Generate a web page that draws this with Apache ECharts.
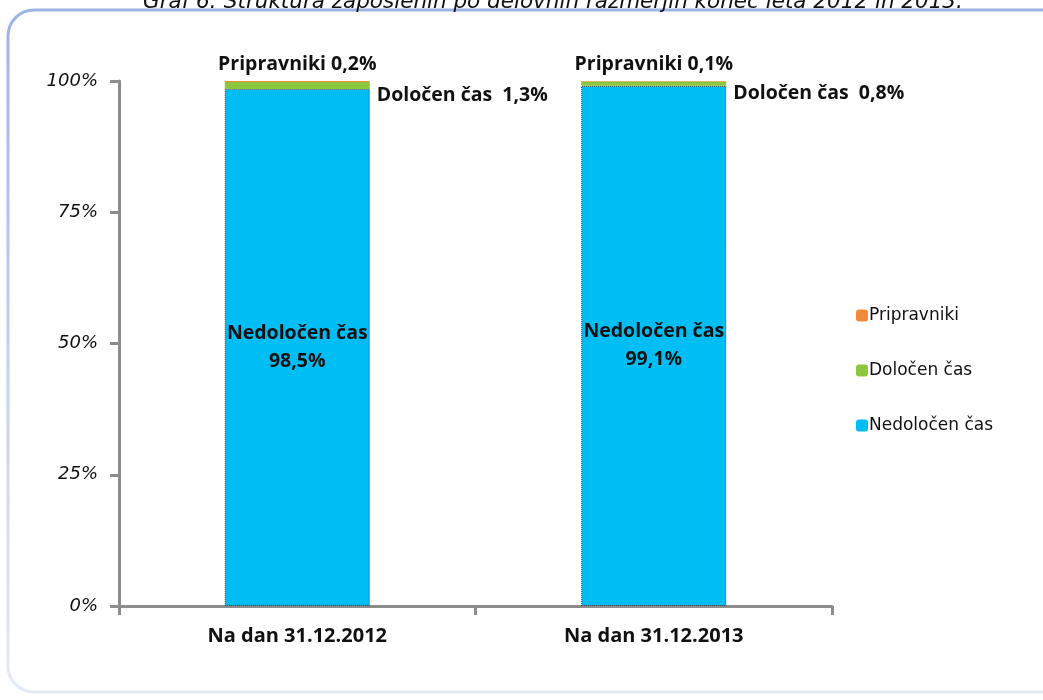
<!DOCTYPE html>
<html>
<head>
<meta charset="utf-8">
<script src="https://cdn.jsdelivr.net/npm/echarts@6/dist/echarts.min.js"></script>
<style>
  html, body { margin: 0; padding: 0; background: #fff; }
  #chart { width: 1043px; height: 700px; }
</style>
</head>
<body>
<div id="chart"></div>
<script>
/* Graf 6 — struktura zaposlenih po delovnih razmerjih */
const categories = ['Na dan 31.12.2012', 'Na dan 31.12.2013'];
const nedolocen = [98.5, 99.1];
const dolocen = [1.3, 0.8];
const pripravniki = [0.2, 0.1];
const yTicks = [0, 25, 50, 75, 100];

const chart = echarts.init(document.getElementById('chart'));

const fmtPct = v => v.toFixed(1).replace('.', ',') + '%';
const boldFont = '"Open Sans", "Noto Sans", sans-serif';

const option = {
  animation: false,
  backgroundColor: '#fff',
  graphic: [
    {
      type: 'rect',
      shape: { x: 8, y: 10, width: 1100, height: 682, r: 26 },
      style: {
        fill: 'none',
        lineWidth: 3,
        stroke: {
          type: 'linear', x: 0, y: 0, x2: 0, y2: 1,
          colorStops: [
            { offset: 0, color: '#9db4e4' },
            { offset: 1, color: '#e4ebf7' }
          ]
        }
      }
    },
    {
      type: 'text',
      left: 143,
      top: -9,
      style: {
        text: 'Graf 6: Struktura zaposlenih po delovnih razmerjih konec leta 2012 in 2013.',
        font: 'italic 21.5px "DejaVu Sans", sans-serif',
        fill: '#111'
      }
    }
  ],
  grid: { left: 119, right: 211, top: 81, bottom: 94 },
  legend: {
    orient: 'vertical',
    left: 851,
    top: 302,
    itemGap: 38,
    itemWidth: 12,
    itemHeight: 12,
    data: ['Pripravniki', 'Določen čas', 'Nedoločen čas'],
    itemStyle: { borderWidth: 0 },
    textStyle: { fontFamily: '"DejaVu Sans", sans-serif', fontSize: 17, color: '#111', padding: [0, 0, 0, -4] }
  },
  xAxis: {
    type: 'category',
    data: categories,
    axisLine: { lineStyle: { color: '#8c8c8c', width: 3 } },
    axisTick: { show: true, length: 9, lineStyle: { color: '#8c8c8c', width: 3 } },
    axisLabel: {
      margin: 20,
      fontFamily: boldFont,
      fontWeight: 'bold',
      fontSize: 20,
      color: '#111'
    }
  },
  yAxis: {
    type: 'value',
    min: yTicks[0],
    max: yTicks[yTicks.length - 1],
    interval: 25,
    splitLine: { show: false },
    axisLine: { show: true, lineStyle: { color: '#8c8c8c', width: 3 } },
    axisTick: { show: true, length: 9, lineStyle: { color: '#8c8c8c', width: 3 } },
    axisLabel: {
      formatter: '{value}%',
      margin: 21,
      fontFamily: '"DejaVu Sans", sans-serif',
      fontStyle: 'italic',
      fontSize: 18,
      color: '#111'
    }
  },
  series: [
    {
      name: 'Nedoločen čas',
      type: 'bar',
      stack: 'total',
      barWidth: 145,
      data: nedolocen,
      itemStyle: {
        color: '#00bdf4',
        borderColor: '#333',
        borderWidth: 1,
        borderType: 'dotted'
      },
      label: {
        show: true,
        position: 'inside',
        formatter: p => p.seriesName + '\n' + fmtPct(p.value),
        fontFamily: boldFont,
        fontWeight: 'bold',
        fontSize: 19.5,
        lineHeight: 28,
        color: '#111'
      }
    },
    {
      name: 'Določen čas',
      type: 'bar',
      stack: 'total',
      data: dolocen,
      itemStyle: { color: '#8cc63f' },
      label: {
        show: true,
        position: 'right',
        distance: 7,
        offset: [0, 10],
        formatter: p => p.seriesName + '  ' + fmtPct(p.value),
        fontFamily: boldFont,
        fontWeight: 'bold',
        fontSize: 19.5,
        color: '#111'
      }
    },
    {
      name: 'Pripravniki',
      type: 'bar',
      stack: 'total',
      data: pripravniki,
      itemStyle: { color: '#f08a3c' },
      label: {
        show: true,
        position: 'top',
        distance: 7,
        formatter: p => p.seriesName + ' ' + fmtPct(p.value),
        fontFamily: boldFont,
        fontWeight: 'bold',
        fontSize: 19.5,
        color: '#111'
      }
    }
  ]
};

chart.setOption(option);
</script>
</body>
</html>
